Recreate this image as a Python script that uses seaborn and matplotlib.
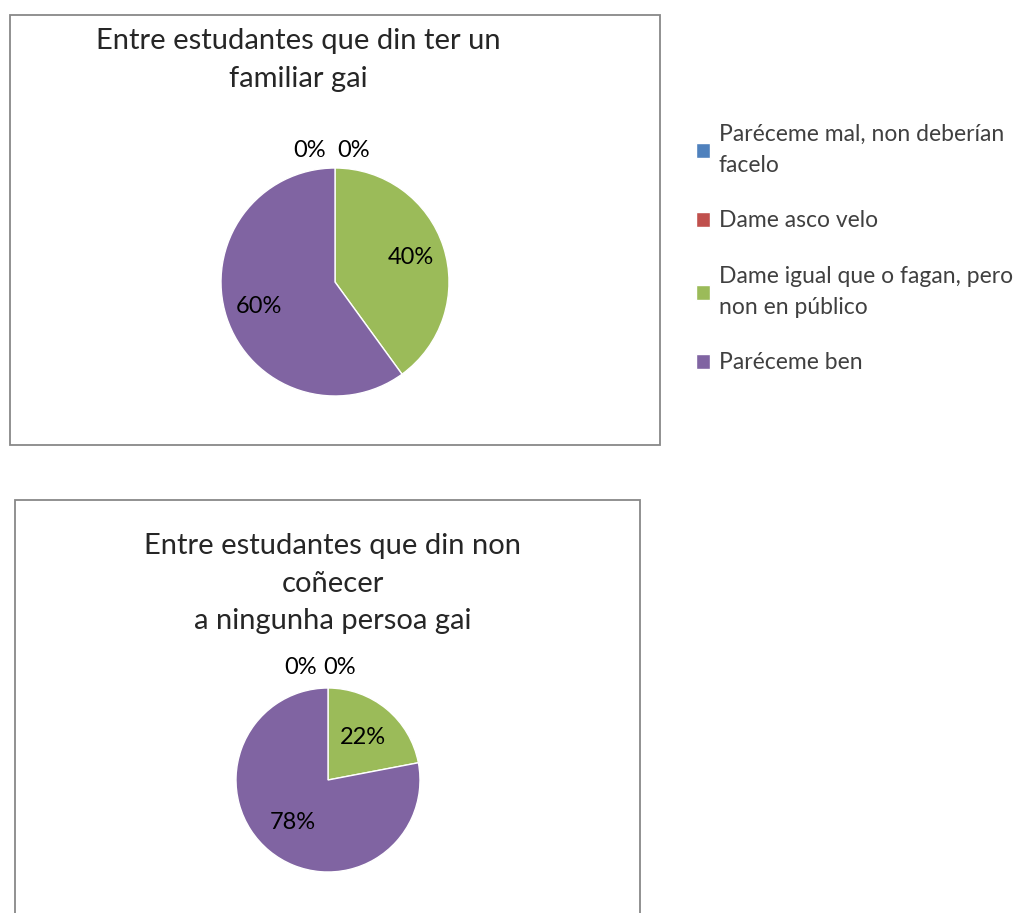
import matplotlib.pyplot as plt
import seaborn as sns
from matplotlib.patches import Rectangle

# ==== data ====
categories = [
    "Paréceme mal, non deberían\nfacelo",
    "Dame asco velo",
    "Dame igual que o fagan, pero\nnon en público",
    "Paréceme ben",
]
familiar_gai = [0, 0, 40, 60]
non_conecer = [0, 0, 22, 78]
titles = [
    "Entre estudantes que din ter un\nfamiliar gai",
    "Entre estudantes que din non\ncoñecer\na ningunha persoa gai",
]
colors = ["#4F81BD", "#C0504D", "#9BBB59", "#8064A2"]

sns.set_theme(style="white")
plt.rcParams["font.family"] = ["Lato", "DejaVu Sans"]

W, H = 1034, 913
fig = plt.figure(figsize=(W / 100, H / 100), dpi=100)


def px_axes(cx, cy, r):
    return fig.add_axes([(cx - r) / W, 1 - (cy + r) / H, 2 * r / W, 2 * r / H])


def box(x0, y0, x1, y1):
    fig.patches.append(Rectangle((x0 / W, 1 - y1 / H), (x1 - x0) / W, (y1 - y0) / H,
                                 transform=fig.transFigure, fill=False,
                                 edgecolor="#888888", lw=1.3))


def draw_pie(ax, values, pctdist, zero_x, zero_y):
    wedges, _, autotexts = ax.pie(values, colors=colors, startangle=90, counterclock=False,
                                  autopct="%1.0f%%", pctdistance=pctdist,
                                  textprops={"fontsize": 17, "color": "black"})
    zi = 0
    for v, t in zip(values, autotexts):
        if v == 0:
            t.set_position((zero_x[zi], zero_y))
            t.set_clip_on(False)
            zi += 1
    ax.set_xlim(-1, 1)
    ax.set_ylim(-1, 1)
    ax.set_aspect("equal")
    ax.axis("off")
    return wedges


# top chart
box(10, 15, 660, 445)
fig.text(298 / W, 1 - 28 / H, titles[0], ha="center", va="top", fontsize=21,
         linespacing=1.55)
ax1 = px_axes(335, 282, 114)
wedges = draw_pie(ax1, familiar_gai, 0.7, [0.16, -0.22], 1.15)

# bottom chart
box(15, 500, 640, 920)
fig.text(333 / W, 1 - 533 / H, titles[1], ha="center", va="top", fontsize=21,
         linespacing=1.55)
ax2 = px_axes(328, 780, 92)
draw_pie(ax2, non_conecer, 0.6, [0.13, -0.3], 1.22)

leg = fig.legend(wedges, categories, loc="upper left", bbox_to_anchor=(689 / W, 1 - 117 / H),
                 frameon=False, fontsize=16.5, handlelength=0.6, handleheight=0.6,
                 handletextpad=0.4, labelspacing=1.5, labelcolor="#404040",
                 borderaxespad=0, borderpad=0.3)
for t in leg.get_texts():
    t.set_linespacing(1.6)

fig.savefig("out.png", dpi=100)
